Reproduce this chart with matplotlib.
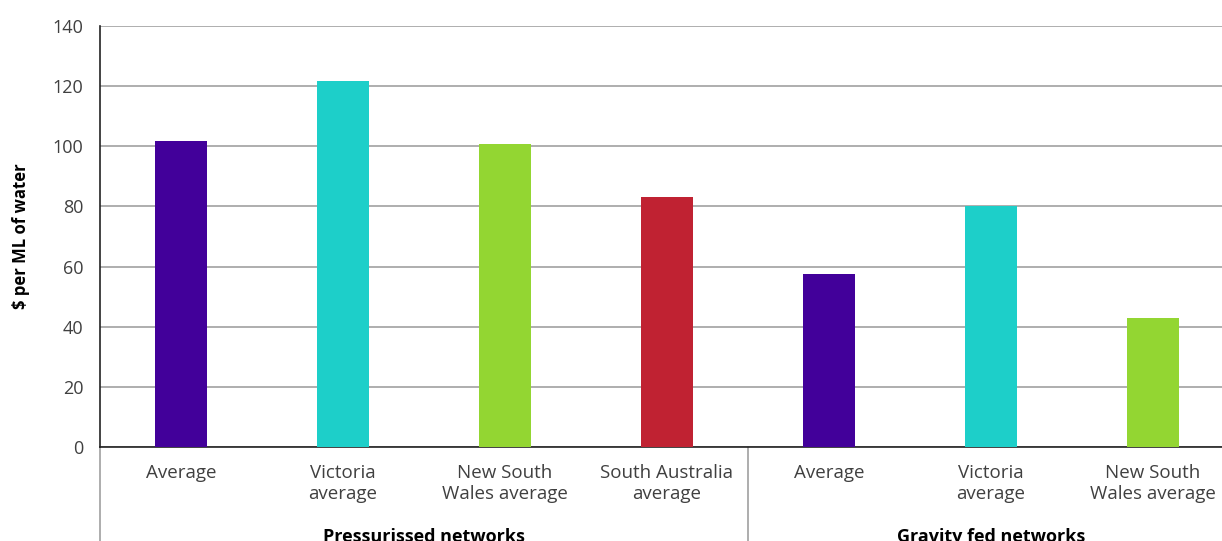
import matplotlib.pyplot as plt
import matplotlib.transforms as mtransforms

# dados
categorias = ["Average", "Victoria\naverage", "New South\nWales average", "South Australia\naverage",
              "Average", "Victoria\naverage", "New South\nWales average"]
valores = [101.8, 121.7, 100.8, 83.1, 57.5, 80.1, 42.9]
cores = ["#42009A", "#1DCFC9", "#93D632", "#C02232", "#42009A", "#1DCFC9", "#93D632"]
grupos = ["Pressurissed networks", "Gravity fed networks"]
grupo_centro = [1.5, 5.0]

plt.rcParams['font.family'] = ['Open Sans', 'DejaVu Sans']

fig = plt.figure(figsize=(12.22, 5.41), dpi=100)
ax = fig.add_axes([100/1222, 94/541, 1134/1222, 421/541])

x = list(range(len(valores)))
ax.bar(x, valores, width=0.315, color=cores, zorder=3)

ax.set_xlim(-0.5, 6.5)
ax.set_ylim(0, 140)
ax.set_yticks(range(0, 141, 20))
ax.yaxis.grid(True, color="#A8A8A8", linewidth=1.3, zorder=0)
ax.tick_params(axis='y', length=0, pad=12, labelsize=13, labelcolor="#404040")
ax.set_xticks(x)
ax.set_xticklabels(categorias, fontsize=13.5, color="#404040", linespacing=1.25)
ax.tick_params(axis='x', length=0, pad=12)

for s in ["top", "right"]:
    ax.spines[s].set_visible(False)
ax.spines["left"].set_color("#222222")
ax.spines["bottom"].set_color("#222222")
ax.spines["left"].set_linewidth(1.2)
ax.spines["bottom"].set_linewidth(1.2)

ax.set_ylabel("$ per ML of water", fontsize=12, fontweight="bold", labelpad=16)

# linhas separadoras dos grupos
trans = mtransforms.blended_transform_factory(ax.transData, ax.transAxes)
for xs in [-0.5, 3.5]:
    ax.plot([xs, xs], [0, -0.23], transform=trans, color="#A0A0A0", linewidth=1.2, clip_on=False)

for nome, c in zip(grupos, grupo_centro):
    ax.text(c, -0.214, nome, transform=trans, ha="center", va="center",
            fontsize=13, fontweight="bold", color="black")

fig.savefig("out.png", dpi=100)
